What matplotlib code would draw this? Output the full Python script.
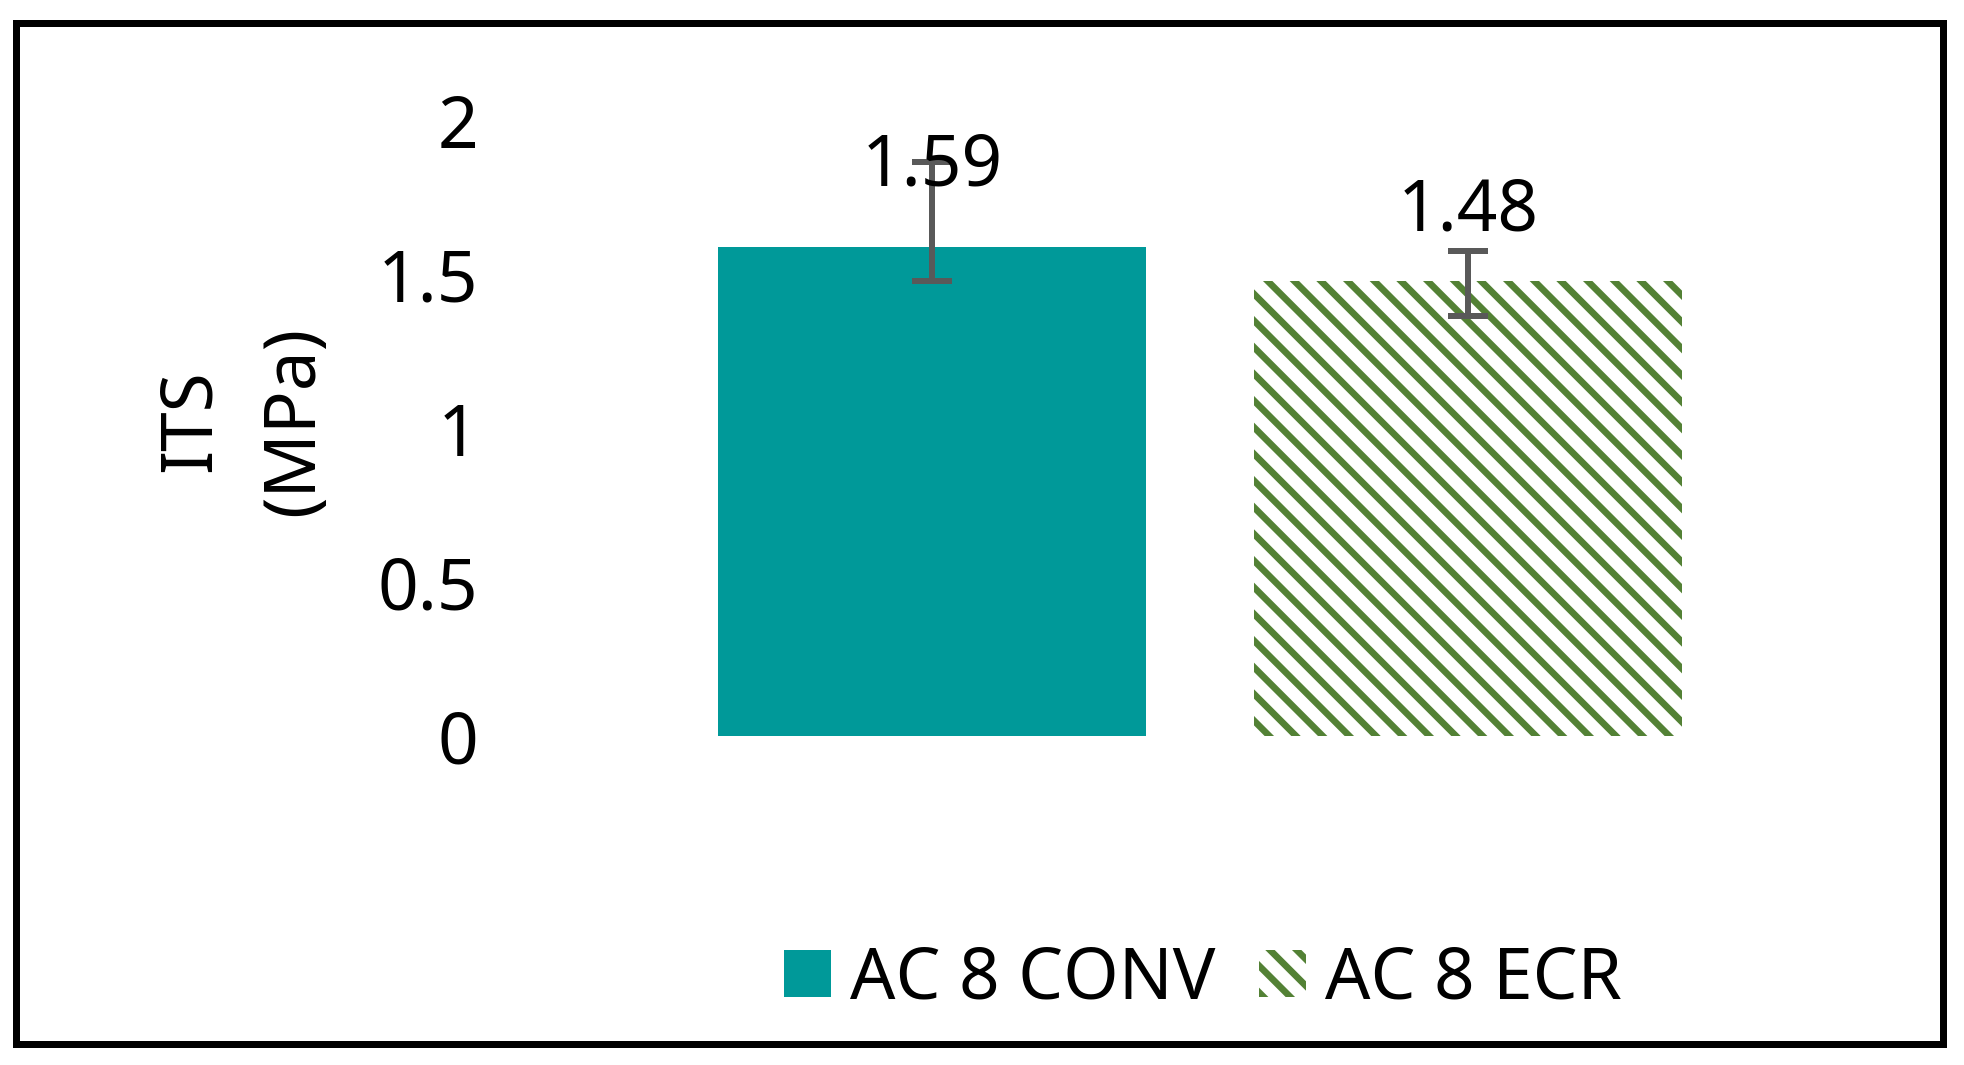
import matplotlib
matplotlib.use("Agg")
import matplotlib.pyplot as plt
from matplotlib.patches import Rectangle

# ---- data ----
categories = ["AC 8 CONV", "AC 8 ECR"]
its_values = [1.59, 1.48]
err_lower = [0.11, 0.114]
err_upper = [0.277, 0.097]
value_labels = ["1.59", "1.48"]
y_ticks = [0, 0.5, 1, 1.5, 2]
y_tick_labels = ["0", "0.5", "1", "1.5", "2"]
y_label = "ITS\n(MPa)"

# ---- styles ----
plt.rcParams['font.family'] = ['Noto Sans', 'DejaVu Sans']
plt.rcParams['hatch.linewidth'] = 3.0
FS = 32
teal = "#009999"
green = "#538135"
err_col = "#595959"
label_offsets_pt = [27.5, 22.5]

W, H, DPI = 1964, 1065, 160
fig = plt.figure(figsize=(W / DPI, H / DPI), dpi=DPI)
fig.patch.set_facecolor("white")

ax = fig.add_axes([664 / W, (H - 736) / H, (1736 - 664) / W, (736 - 121) / H])
x = list(range(len(categories)))
b1 = ax.bar(x[0], its_values[0], width=0.8, color=teal, linewidth=0, label=categories[0])
b2 = ax.bar(x[1], its_values[1], width=0.8, facecolor="white", edgecolor=green,
            hatch="\\\\", linewidth=0, label=categories[1])

ax.errorbar(x, its_values, yerr=[err_lower, err_upper], fmt="none", ecolor=err_col,
            elinewidth=2.7, capsize=9, capthick=2.7, zorder=3)

for xi, v, lab, off in zip(x, its_values, value_labels, label_offsets_pt):
    ax.annotate(lab, (xi, v), xytext=(0, off), textcoords="offset points",
                ha="center", va="baseline", fontsize=FS, color="black",
                zorder=5, annotation_clip=False)

ax.set_xlim(-0.5, 1.5)
ax.set_ylim(0, 2)
ax.set_yticks(y_ticks)
ax.set_yticklabels(y_tick_labels, fontsize=FS)
ax.set_xticks([])
ax.tick_params(axis="y", length=0, pad=(664 - 478) * 72 / DPI)
for s in ax.spines.values():
    s.set_visible(False)

fig.text(243 / W, 1 - 421 / H, y_label, rotation=90, ha="center", va="center",
         multialignment="center", fontsize=FS, linespacing=1.6)

leg = fig.legend(handles=[b1, b2], labels=categories, loc="center",
                 bbox_to_anchor=(1203 / W, 1 - 980 / H), ncol=2, frameon=False,
                 fontsize=FS, handlelength=0.65, handleheight=0.62,
                 handletextpad=0.27, columnspacing=0.62, borderpad=0, borderaxespad=0)

fig.add_artist(Rectangle((16 / W, 1 - 1043.5 / H), (1943 - 16) / W, (1043.5 - 22.5) / H,
                         transform=fig.transFigure, fill=False, edgecolor="black",
                         linewidth=7 * 72 / DPI))

fig.savefig("out.png", dpi=DPI, facecolor="white")
